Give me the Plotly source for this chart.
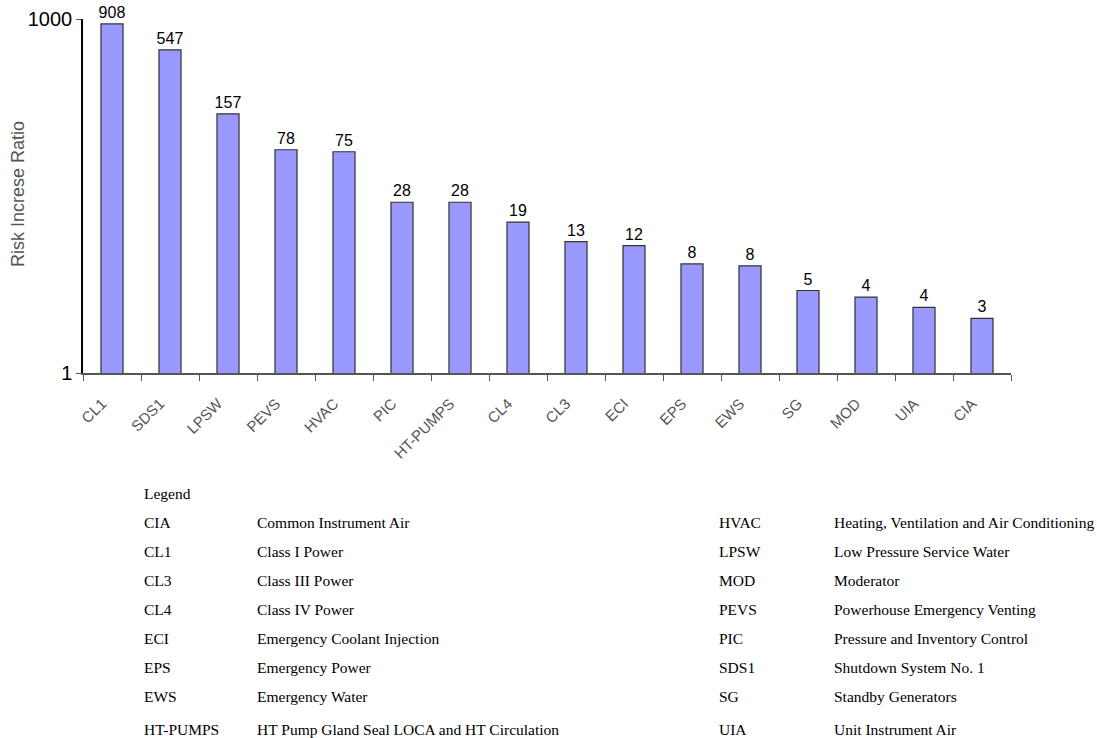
import plotly.graph_objects as go

categories = ["CL1", "SDS1", "LPSW", "PEVS", "HVAC", "PIC", "HT-PUMPS", "CL4",
              "CL3", "ECI", "EPS", "EWS", "SG", "MOD", "UIA", "CIA"]
values = [908, 547, 157, 78, 75, 28, 28, 19, 13, 12, 8.4, 8.1, 5, 4.4, 3.6, 2.9]

y_tick_vals = [1, 1000]
y_tick_text = ["1", "1000"]
y_title = "Risk Increse Ratio"

legend_title = "Legend"
legend_left_abbr = ["CIA", "CL1", "CL3", "CL4", "ECI", "EPS", "EWS", "HT-PUMPS"]
legend_left_desc = ["Common Instrument Air", "Class I Power", "Class III Power",
                    "Class IV Power", "Emergency Coolant Injection", "Emergency Power",
                    "Emergency Water", "HT Pump Gland Seal LOCA and HT Circulation"]
legend_right_abbr = ["HVAC", "LPSW", "MOD", "PEVS", "PIC", "SDS1", "SG", "UIA"]
legend_right_desc = ["Heating, Ventilation and Air Conditioning", "Low Pressure Service Water",
                     "Moderator", "Powerhouse Emergency Venting", "Pressure and Inventory Control",
                     "Shutdown System No. 1", "Standby Generators", "Unit Instrument Air"]

W, H = 1097, 738
L, R, T, B = 83, 1011, 19, 373


def px(xp):
    return (xp - L) / (R - L)


def py(yp):
    return (B - yp) / (B - T)


fig = go.Figure()
fig.add_trace(go.Bar(
    x=categories, y=values, width=0.38,
    marker=dict(color="#9999FF", line=dict(color="#333333", width=1.2)),
    texttemplate="%{y:.0f}", textposition="outside", cliponaxis=False,
    constraintext="none",
    textfont=dict(family="Liberation Sans, Arial", size=16, color="#000000"),
))

annotations = [dict(
    text=y_title, xref="paper", yref="paper", x=px(18), y=py(194),
    textangle=-90, showarrow=False, xanchor="center", yanchor="middle",
    font=dict(family="Liberation Sans, Arial", size=18, color="#555555"))]

font_leg = dict(family="Liberation Serif, Times New Roman", size=15.5, color="#000000")
annotations.append(dict(text=legend_title, xref="paper", yref="paper", x=px(142), y=py(493),
                        showarrow=False, xanchor="left", yanchor="middle", font=font_leg))
row_y = [522, 551, 580, 609, 638, 667, 696, 729]
for i in range(len(legend_left_abbr)):
    for xx, txt in ((142, legend_left_abbr[i]), (255, legend_left_desc[i]),
                    (717, legend_right_abbr[i]), (832, legend_right_desc[i])):
        annotations.append(dict(text=txt, xref="paper", yref="paper", x=px(xx), y=py(row_y[i]),
                                showarrow=False, xanchor="left", yanchor="middle", font=font_leg))

fig.update_layout(
    width=W, height=H,
    margin=dict(l=L, r=W - R, t=T, b=H - B, pad=0, autoexpand=False),
    plot_bgcolor="white", paper_bgcolor="white",
    showlegend=False, bargap=0.62,
    annotations=annotations,
    xaxis=dict(
        type="category", showline=True, linecolor="#555555", linewidth=2,
        ticks="outside", tickson="boundaries", ticklen=6, tickcolor="#555555",
        tickangle=-45, showgrid=False, ticklabelstandoff=14, ticklabelshift=-10,
        automargin=False,
        tickfont=dict(family="Liberation Sans, Arial", size=15, color="#555555"),
    ),
    yaxis=dict(
        type="log", range=[0, 3], showline=True, linecolor="#000000", linewidth=1.5,
        tickvals=y_tick_vals, ticktext=y_tick_text, ticks="outside", ticklen=5,
        tickcolor="#555555", showgrid=False, zeroline=False, automargin=False,
        tickfont=dict(family="Liberation Sans, Arial", size=20, color="#000000"),
    ),
)

fig.write_html("out.html")
